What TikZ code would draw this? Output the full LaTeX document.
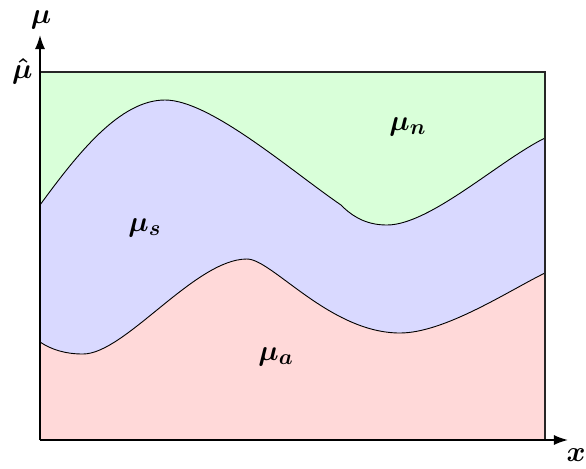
\documentclass[tikz,border=0pt]{standalone}
\usepackage{amsmath,bm}
\usetikzlibrary{arrows.meta}
\begin{document}
\begin{tikzpicture}[x=0.5pt,y=-0.5pt,
  lab/.style={font=\fontsize{15}{18}\selectfont,inner sep=0pt},
  curve/.style={draw=black,line width=0.45pt},
  axis/.style={line width=0.8pt,-{Latex[length=7pt,width=5pt]}}]
\useasboundingbox (0,0) rectangle (586,468);
\def\upcurvepath{(40,205) .. controls (78,153) and (120,100) .. (165,100)
  .. controls (210,100) and (290,170) .. (341,205)
  -- (344,208) .. controls (355,218) and (368,225) .. (387,225)
  .. controls (430,225) and (500,160) .. (545,138)}
\def\lowcurvepath{(40,342) .. controls (52,350) and (66,354) .. (83,354)
  .. controls (125,354) and (195,259) .. (247,259)
  .. controls (272,259) and (330,333) .. (400,333)
  .. controls (445,333) and (510,290) .. (545,273)}
% regions
\fill[green!15] (40,72) rectangle (545,440);
\fill[blue!15] (40,440) -- \upcurvepath -- (545,440) -- cycle;
\fill[red!15] (40,440) -- \lowcurvepath -- (545,440) -- cycle;
% curves
\draw[curve] \upcurvepath;
\draw[curve] \lowcurvepath;
% frame
\coordinate (O) at (40,440);
\coordinate (xe) at (568,440);
\coordinate (ye) at (40,35);
\coordinate (tl) at (40,72);
\coordinate (tr) at (545,72);
\coordinate (br) at (545,440);
\draw[line width=0.6pt,black!85] (tl) -- (tr) -- (br);
\draw[axis] (O) -- (xe);
\draw[axis] (O) -- (ye);
% labels
\node[lab] (mu) at (41,20) {$\bm{\mu}$};
\node[lab] (xl) at (576,455) {$\bm{x}$};
\node[lab,anchor=east] (muhat) at (33,71) {$\bm{\hat{\mu}}$};
\node[lab] (mun) at (408,127) {$\bm{\mu_n}$};
\node[lab] (mus) at (145,228) {$\bm{\mu_s}$};
\node[lab] (mua) at (276,357) {$\bm{\mu_a}$};
\end{tikzpicture}
\end{document}
